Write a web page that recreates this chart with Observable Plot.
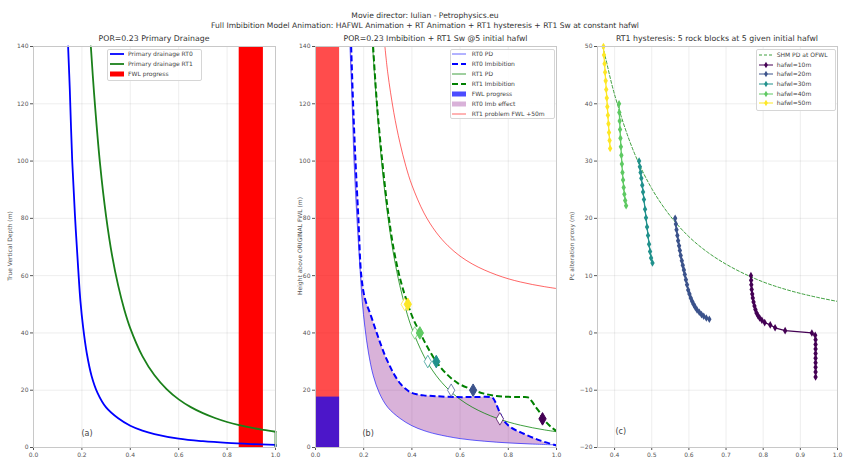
<!DOCTYPE html>
<html>
<head>
<meta charset="utf-8">
<script src="https://cdn.jsdelivr.net/npm/d3@7"></script>
<script src="https://cdn.jsdelivr.net/npm/@observablehq/plot@0.6"></script>
<style>
  html, body { margin: 0; padding: 0; background: #fff; }
  #fig { position: relative; width: 850px; height: 457px; overflow: hidden;
         font-family: "DejaVu Sans", sans-serif; color: #333; background: #fff; }
  .t { position: absolute; white-space: nowrap; transform: translate(-50%, -50%); line-height: 1; }
  .ylab { position: absolute; white-space: nowrap; line-height: 1; font-size: 6px; color: #555;
          transform: translate(-50%, -50%) rotate(-90deg); }
  .panel { position: absolute; top: 0; }
  .legend { position: absolute; box-sizing: border-box; background: rgba(255,255,255,0.85);
            border: 1px solid #d6d6d6; border-radius: 2px; }
  .lt { position: absolute; white-space: nowrap; line-height: 1; font-size: 6px; color: #444;
        transform: translateY(-50%); }
</style>
</head>
<body>
<div id="fig"></div>
<script>
// ---------- tick values ----------
const xTicksAB = [0, 0.2, 0.4, 0.6, 0.8, 1.0];
const yTicksAB = [0, 20, 40, 60, 80, 100, 120, 140];
const xTicksC = [0.4, 0.5, 0.6, 0.7, 0.8, 0.9, 1.0];
const yTicksC = [-20, -10, 0, 10, 20, 30, 40, 50];

// ---------- primary drainage curves [Sw, height m] ----------
const rt0PD = [[0.143,140],[0.150,125],[0.160,100],[0.172,80],[0.185,62],[0.194,51],[0.205,42],
  [0.22,33],[0.24,25],[0.265,19],[0.30,14],[0.35,10.2],[0.40,7.6],[0.45,5.9],[0.50,4.7],
  [0.60,3.1],[0.70,2.2],[0.80,1.6],[0.90,1.2],[1.0,0.9]];
const rt1PD = [[0.237,140],[0.25,124],[0.275,99],[0.30,80.7],[0.325,66.9],[0.35,56.5],[0.375,48.2],
  [0.40,41.6],[0.45,31.9],[0.50,25.2],[0.55,20.4],[0.60,16.8],[0.65,14.1],[0.70,12.0],[0.75,10.3],
  [0.80,8.9],[0.85,7.8],[0.90,6.9],[0.95,6.15],[1.0,5.5]];

// ---------- imbibition curves after the FWL rise ----------
const rt0Imb = [[0.148,140],[0.156,120],[0.166,100],[0.178,80],[0.19,60],[0.205,52],[0.228,46.5],
  [0.25,41],[0.27,36.2],[0.29,31.8],[0.311,28],[0.33,25],[0.353,22.2],[0.375,20.4],[0.394,19.3],
  [0.42,18.6],[0.449,18.2],[0.50,17.9],[0.588,17.6],[0.65,17.6],[0.726,17.6],[0.737,17.2],
  [0.748,15.5],[0.761,12.9],[0.781,9.4],[0.809,7.1],[0.864,4.8],[0.934,2.4],[1.0,0.7]];
const rt1Imb = [[0.239,140],[0.255,120],[0.277,100],[0.30,83],[0.325,69],[0.353,58.3],[0.383,50],
  [0.405,45],[0.433,40.2],[0.465,35],[0.501,30],[0.54,26],[0.59,22.5],[0.654,20.1],[0.70,18.8],
  [0.75,18.0],[0.80,17.7],[0.85,17.6],[0.882,17.5],[0.897,16.2],[0.913,14.2],[0.93,12.3],[0.942,10.4],
  [0.961,8.5],[0.98,7.0],[1.0,5.7]];
// RT1 drainage referenced to a FWL 50 m deeper
const rt1Plus50 = [[0.288,140],[0.30,130.7],[0.325,116.9],[0.35,106.5],[0.375,98.2],[0.40,91.6],
  [0.45,81.9],[0.50,75.2],[0.55,70.4],[0.60,66.8],[0.65,64.1],[0.70,62.0],[0.75,60.3],[0.80,58.9],
  [0.85,57.8],[0.90,56.9],[0.95,56.15],[1.0,55.5]];

// ---------- FWL progress ----------
const fwlBarA = [{from: 0.85, to: 0.95, top: 140}];
const fwlBarB = [{from: 0.0, to: 0.1, top: 140}];
const fwlRise = [{from: 0.0, to: 0.1, top: 17.6}];

// ---------- rock blocks: initial hafwl, Sw on drainage, Sw after imbibition ----------
const hafwl = [10, 20, 30, 40, 50];
const swOnPD = [0.765, 0.563, 0.466, 0.412, 0.370];
const swOnImb = [0.942, 0.654, 0.501, 0.433, 0.383];

// ---------- RT1 hysteresis paths [Sw, Pc proxy m] ----------
const shmPD = [[0.368,50],[0.375,48.2],[0.40,41.6],[0.45,31.9],[0.50,25.2],[0.55,20.4],[0.60,16.8],
  [0.65,14.1],[0.70,12.0],[0.75,10.3],[0.80,8.9],[0.85,7.8],[0.90,6.9],[0.95,6.15],[1.0,5.5]];
const block10 = [[0.767,10],[0.7675,9.2],[0.768,8.4],[0.769,7.6],[0.7705,6.8],[0.772,6.1],[0.774,5.4],
  [0.7765,4.7],[0.779,4.1],[0.782,3.5],[0.786,3.0],[0.7905,2.6],[0.7965,2.2],[0.804,1.8],[0.819,1.4],
  [0.832,0.9],[0.859,0.4],[0.931,0],[0.94,-0.4],[0.941,-1.2],[0.941,-2.0],[0.941,-2.8],[0.941,-3.6],
  [0.941,-4.4],[0.941,-5.2],[0.941,-6.0],[0.941,-6.8],[0.941,-7.7]];
const block20 = [[0.563,20],[0.565,19],[0.5667,18],[0.569,17],[0.571,16.1],[0.5735,15.2],[0.5757,14.4],
  [0.578,13.5],[0.581,12.6],[0.5835,11.8],[0.5865,11],[0.589,10.2],[0.592,9.3],[0.595,8.4],[0.598,7.5],
  [0.6015,6.8],[0.605,6.1],[0.609,5.5],[0.6125,5.0],[0.617,4.5],[0.622,4.0],[0.628,3.6],[0.634,3.2],
  [0.64,2.9],[0.647,2.6],[0.655,2.4]];
const block30 = [[0.466,30],[0.468,29],[0.470,28],[0.472,27],[0.4745,25.8],[0.4766,24.6],[0.479,23.3],
  [0.482,21.6],[0.4845,20.1],[0.4874,18.5],[0.490,17.0],[0.4928,15.5],[0.4955,14.2],[0.4982,13.1],
  [0.502,12.2]];
const block40 = [[0.412,40],[0.4128,38.5],[0.4137,37],[0.4147,35.5],[0.4158,34],[0.417,32.5],[0.4183,31],
  [0.4197,29.5],[0.4212,28],[0.4228,26.7],[0.4245,25.4],[0.4263,24.2],[0.4285,23.1],[0.431,22.2]];
const block50 = [[0.370,50],[0.3715,48.5],[0.373,47],[0.3745,45.5],[0.376,44],[0.3775,42.5],[0.379,41],
  [0.3805,39.5],[0.382,38],[0.3835,36.5],[0.385,35],[0.3865,33.6],[0.388,32.2]];

// ---------- helpers ----------
const X = d => d[0], Y = d => d[1];
const last = a => a.slice(-1);
const fig = document.getElementById("fig");
const axisStyle = {background: "transparent", fontFamily: "DejaVu Sans, sans-serif",
  fontSize: "6px", color: "#555", overflow: "visible"};
const viridis = {type: "ordinal", scheme: "viridis", domain: hafwl};

function place(svg, left) {
  svg.classList.add("panel");
  svg.style.left = left + "px";
  fig.appendChild(svg);
}
function text(str, x, y, size, color, cls = "t") {
  const el = document.createElement("div");
  el.className = cls;
  el.textContent = str;
  el.style.left = x + "px";
  el.style.top = y + "px";
  if (size) el.style.fontSize = size + "px";
  if (color) el.style.color = color;
  fig.appendChild(el);
}
function legend(box, rows) {
  const div = document.createElement("div");
  div.className = "legend";
  Object.assign(div.style, {left: box.x + "px", top: box.y + "px", width: box.w + "px", height: box.h + "px"});
  fig.appendChild(div);
  rows.forEach((r, i) => {
    const cy = box.row0 + i * box.step - box.y - 1;
    const s = d3.create("svg").attr("width", 16).attr("height", 10)
      .style("position", "absolute").style("left", (box.sx - box.x - 1) + "px").style("top", (cy - 5) + "px");
    if (r.kind === "rect") {
      s.append("rect").attr("x", 0).attr("y", 2.5).attr("width", 14).attr("height", 5)
        .attr("fill", r.color).attr("fill-opacity", r.opacity ?? 1);
    } else {
      s.append("line").attr("x1", 0).attr("x2", 14).attr("y1", 5).attr("y2", 5)
        .attr("stroke", r.color).attr("stroke-width", r.width ?? 1)
        .attr("stroke-opacity", r.opacity ?? 1).attr("stroke-dasharray", r.dash ?? null);
      if (r.kind === "marker") {
        s.append("path").attr("d", d3.symbol(d3.symbolDiamond, 12)()).attr("transform", "translate(7,5)")
          .attr("fill", r.color);
      }
    }
    div.appendChild(s.node());
    const t = document.createElement("div");
    t.className = "lt";
    t.textContent = r.label;
    t.style.left = (box.tx - box.x - 1) + "px";
    t.style.top = cy + "px";
    div.appendChild(t);
  });
}

// ---------- titles ----------
text("Movie director: Iulian - Petrophysics.eu", 425, 15.7, 7.6, "#333");
text("Full Imbibition Model Animation: HAFWL Animation + RT Animation + RT1 hysteresis + RT1 Sw at constant hafwl", 425, 25.9, 7.6, "#333");

// ---------- (a) primary drainage ----------
place(Plot.plot({
  width: 285, height: 457, marginLeft: 33, marginRight: 10, marginTop: 46, marginBottom: 10,
  style: axisStyle,
  x: {domain: [0, 1], ticks: xTicksAB, tickFormat: ".1f", grid: true, label: null, tickSize: 3, tickPadding: 2},
  y: {domain: [0, 140], ticks: yTicksAB, grid: true, label: null, tickSize: 3, tickPadding: 2},
  marks: [
    Plot.rect(fwlBarA, {x1: "from", x2: "to", y1: 0, y2: "top", fill: "red"}),
    Plot.line(rt0PD, {x: X, y: Y, stroke: "blue", strokeWidth: 1.8, curve: "catmull-rom"}),
    Plot.ruleX(last(rt0PD), {x: X, y1: 0, y2: Y, stroke: "blue", strokeWidth: 1.8}),
    Plot.line(rt1PD, {x: X, y: Y, stroke: "#1a801a", strokeWidth: 1.8, curve: "catmull-rom"}),
    Plot.ruleX(last(rt1PD), {x: X, y1: 0, y2: Y, stroke: "#1a801a", strokeWidth: 1.8}),
    Plot.text(["(a)"], {frameAnchor: "bottom-left", dx: 48, dy: -12, fontSize: 8, fill: "#444"}),
    Plot.frame({stroke: "#c8c8c8"})
  ]
}), 0);
text("POR=0.23 Primary Drainage", 154, 39.3, 7.8, "#333");
text("True Vertical Depth (m)", 10, 246, null, null, "ylab");
legend({x: 107, y: 49, w: 95, h: 32, row0: 54.3, step: 10, sx: 110, tx: 128}, [
  {label: "Primary drainage RT0", color: "blue", width: 1.8},
  {label: "Primary drainage RT1", color: "#1a801a", width: 1.8},
  {label: "FWL progress", kind: "rect", color: "red"}
]);

// ---------- (b) imbibition ----------
const imbEffect = rt0Imb.concat(rt0PD.slice().reverse());
const pdMarks = hafwl.map((h, i) => ({h, sw: swOnPD[i]}));
const imbMarks = hafwl.map((h, i) => ({h, sw: swOnImb[i]}));
place(Plot.plot({
  width: 281, height: 457, marginLeft: 30, marginRight: 10, marginTop: 46, marginBottom: 10,
  style: axisStyle,
  color: viridis,
  x: {domain: [0, 1], ticks: xTicksAB, tickFormat: ".1f", grid: true, label: null, tickSize: 3, tickPadding: 2},
  y: {domain: [0, 140], ticks: yTicksAB, grid: true, label: null, tickSize: 3, tickPadding: 2},
  marks: [
    Plot.rect(fwlBarB, {x1: "from", x2: "to", y1: 0, y2: "top", fill: "red", fillOpacity: 0.7}),
    Plot.rect(fwlRise, {x1: "from", x2: "to", y1: 0, y2: "top", fill: "blue", fillOpacity: 0.7}),
    Plot.line(imbEffect, {x: X, y: Y, fill: "purple", fillOpacity: 0.3, stroke: null, curve: "catmull-rom"}),
    Plot.line(rt0PD, {x: X, y: Y, stroke: "blue", strokeOpacity: 0.6, strokeWidth: 1, curve: "catmull-rom"}),
    Plot.line(rt1PD, {x: X, y: Y, stroke: "green", strokeOpacity: 0.75, strokeWidth: 1, curve: "catmull-rom"}),
    Plot.line(rt1Plus50, {x: X, y: Y, stroke: "red", strokeOpacity: 0.6, strokeWidth: 1, curve: "catmull-rom"}),
    Plot.ruleX(last(rt1Plus50), {x: X, y1: 0, y2: Y, stroke: "red", strokeOpacity: 0.6, strokeWidth: 1}),
    Plot.line(rt0Imb, {x: X, y: Y, stroke: "blue", strokeWidth: 2, strokeDasharray: "6,3", strokeLinecap: "butt", curve: "catmull-rom"}),
    Plot.line(rt1Imb, {x: X, y: Y, stroke: "green", strokeWidth: 2, strokeDasharray: "6,3", strokeLinecap: "butt", curve: "catmull-rom"}),
    Plot.dot(pdMarks, {x: "sw", y: "h", symbol: "diamond", r: 3.8, fill: "white", stroke: "h", strokeWidth: 1, strokeOpacity: 0.7}),
    Plot.dot(imbMarks, {x: "sw", y: "h", symbol: "diamond", r: 3.8, fill: "h", stroke: "h", strokeWidth: 1}),
    Plot.text(["(b)"], {frameAnchor: "bottom-left", dx: 47, dy: -12, fontSize: 8, fill: "#444"}),
    Plot.frame({stroke: "#c8c8c8"})
  ]
}), 285);
text("POR=0.23 Imbibition + RT1 Sw @5 initial hafwl", 435.5, 39.3, 7.8, "#333");
text("Height above ORIGINAL FWL (m)", 300, 246, null, null, "ylab");
legend({x: 450, y: 49.3, w: 105, h: 70, row0: 54.3, step: 10, sx: 452, tx: 471.7}, [
  {label: "RT0 PD", color: "blue", width: 1, opacity: 0.6},
  {label: "RT0 Imbibition", color: "blue", width: 2, dash: "6,3"},
  {label: "RT1 PD", color: "green", width: 1, opacity: 0.75},
  {label: "RT1 Imbibition", color: "green", width: 2, dash: "6,3"},
  {label: "FWL progress", kind: "rect", color: "blue", opacity: 0.7},
  {label: "RT0 Imb effect", kind: "rect", color: "purple", opacity: 0.3},
  {label: "RT1 problem FWL +50m", color: "red", width: 1, opacity: 0.6}
]);

// ---------- (c) RT1 hysteresis ----------
const blocks = [block10, block20, block30, block40, block50]
  .flatMap((pts, i) => pts.map(([sw, pc]) => ({hafwl: hafwl[i], sw, pc})));
place(Plot.plot({
  width: 284, height: 457, marginLeft: 31, marginRight: 13, marginTop: 46, marginBottom: 10,
  style: axisStyle,
  color: viridis,
  x: {domain: [0.354, 1.0], ticks: xTicksC, tickFormat: ".1f", grid: true, label: null, tickSize: 3, tickPadding: 2},
  y: {domain: [-20, 50], ticks: yTicksC, grid: true, label: null, tickSize: 3, tickPadding: 2},
  marks: [
    Plot.line(shmPD, {x: X, y: Y, stroke: "green", strokeOpacity: 0.75, strokeWidth: 1, strokeDasharray: "3,2", curve: "catmull-rom"}),
    Plot.ruleX(last(shmPD), {x: X, y1: -20, y2: Y, stroke: "green", strokeOpacity: 0.75, strokeWidth: 1, strokeDasharray: "3,2"}),
    Plot.line(blocks, {x: "sw", y: "pc", z: "hafwl", stroke: "hafwl", strokeWidth: 1.3}),
    Plot.dot(blocks, {x: "sw", y: "pc", fill: "hafwl", symbol: "diamond", r: 2.3}),
    Plot.text(["(c)"], {frameAnchor: "bottom-left", dx: 18, dy: -14, fontSize: 8, fill: "#444"}),
    Plot.frame({stroke: "#c8c8c8"})
  ]
}), 566);
text("RT1 hysteresis: 5 rock blocks at 5 given initial hafwl", 717, 39.3, 7.8, "#333");
text("Pc alteration proxy (m)", 572, 246, null, null, "ylab");
const vir = d3.quantize(d3.interpolateViridis, 5);
legend({x: 756, y: 49.3, w: 80, h: 62, row0: 55, step: 9.65, sx: 759, tx: 776.7}, [
  {label: "SHM PD at OFWL", color: "green", width: 1, dash: "3,2", opacity: 0.75},
  ...hafwl.map((h, i) => ({label: `hafwl=${h}m`, kind: "marker", color: vir[i], width: 1}))
]);
</script>
</body>
</html>
